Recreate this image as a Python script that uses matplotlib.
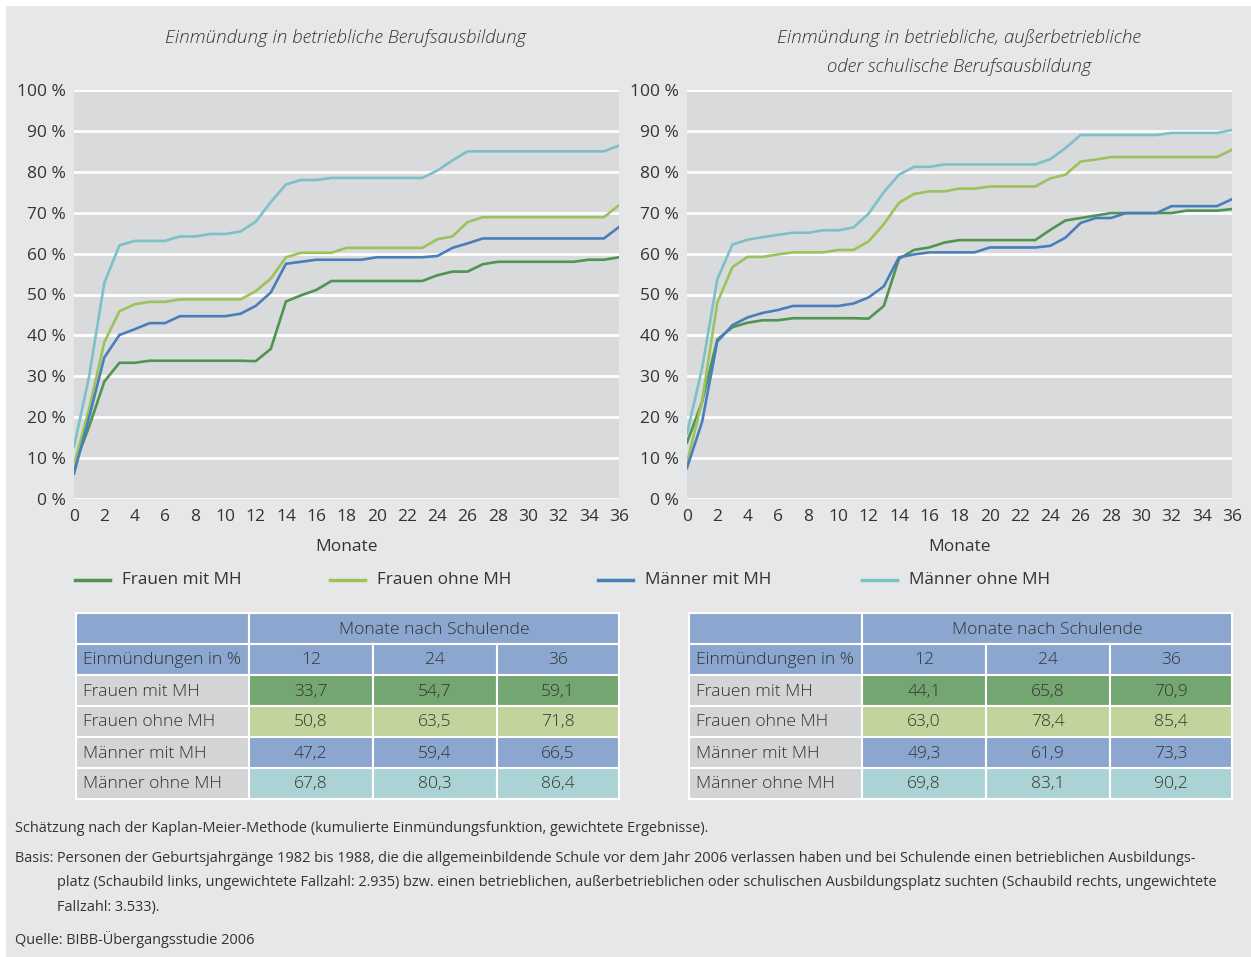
import matplotlib
matplotlib.use("Agg")
import matplotlib.pyplot as plt
from matplotlib.patches import Rectangle

months = list(range(37))

# left chart: betriebliche Berufsausbildung
left_frauen_mit = [8, 17.7, 28.7, 33.3, 33.3, 33.8, 33.8, 33.8, 33.8, 33.8, 33.8, 33.8, 33.7,
                   36.7, 48.3, 49.8, 51.1, 53.3, 53.3, 53.3, 53.3, 53.3, 53.3, 53.3, 54.7,
                   55.6, 55.6, 57.4, 58.0, 58.0, 58.0, 58.0, 58.0, 58.0, 58.5, 58.5, 59.1]
left_frauen_ohne = [8.4, 22, 38.3, 45.9, 47.6, 48.2, 48.2, 48.8, 48.8, 48.8, 48.8, 48.8, 50.8,
                    53.9, 59.1, 60.2, 60.2, 60.2, 61.4, 61.4, 61.4, 61.4, 61.4, 61.4, 63.5,
                    64.2, 67.7, 68.9, 68.9, 68.9, 68.9, 68.9, 68.9, 68.9, 68.9, 68.9, 71.8]
left_maenner_mit = [6.2, 20, 34.6, 40.1, 41.5, 43.0, 43.0, 44.7, 44.7, 44.7, 44.7, 45.3, 47.2,
                    50.5, 57.5, 58.0, 58.5, 58.5, 58.5, 58.5, 59.1, 59.1, 59.1, 59.1, 59.4,
                    61.4, 62.5, 63.7, 63.7, 63.7, 63.7, 63.7, 63.7, 63.7, 63.7, 63.7, 66.5]
left_maenner_ohne = [12.8, 30, 52.8, 62.0, 63.1, 63.1, 63.1, 64.2, 64.2, 64.8, 64.8, 65.4, 67.8,
                     72.6, 76.9, 78.0, 78.0, 78.5, 78.5, 78.5, 78.5, 78.5, 78.5, 78.5, 80.3,
                     82.8, 85.0, 85.0, 85.0, 85.0, 85.0, 85.0, 85.0, 85.0, 85.0, 85.0, 86.4]

# right chart: betriebliche, ausserbetriebliche oder schulische Berufsausbildung
right_frauen_mit = [13.8, 23.8, 39.0, 42.0, 43.1, 43.7, 43.7, 44.2, 44.2, 44.2, 44.2, 44.2, 44.1,
                    47.2, 58.7, 60.9, 61.5, 62.7, 63.3, 63.3, 63.3, 63.3, 63.3, 63.3, 65.8,
                    68.1, 68.7, 69.3, 69.9, 69.9, 69.9, 69.9, 69.9, 70.5, 70.5, 70.5, 70.9]
right_frauen_ohne = [8.8, 24, 48.0, 56.7, 59.2, 59.2, 59.8, 60.3, 60.3, 60.3, 60.9, 60.9, 63.0,
                     67.2, 72.4, 74.6, 75.2, 75.2, 75.9, 75.9, 76.4, 76.4, 76.4, 76.4, 78.4,
                     79.3, 82.5, 83.0, 83.6, 83.6, 83.6, 83.6, 83.6, 83.6, 83.6, 83.6, 85.4]
right_maenner_mit = [7.6, 18.9, 38.5, 42.5, 44.4, 45.5, 46.2, 47.2, 47.2, 47.2, 47.2, 47.8, 49.3,
                     52.0, 59.1, 59.8, 60.3, 60.3, 60.3, 60.3, 61.5, 61.5, 61.5, 61.5, 61.9,
                     63.9, 67.5, 68.7, 68.7, 69.9, 69.9, 69.9, 71.6, 71.6, 71.6, 71.6, 73.3]
right_maenner_ohne = [16, 32, 53.7, 62.2, 63.4, 64.0, 64.6, 65.1, 65.1, 65.7, 65.7, 66.4, 69.8,
                      75.0, 79.3, 81.2, 81.2, 81.8, 81.8, 81.8, 81.8, 81.8, 81.8, 81.8, 83.1,
                      85.8, 89.0, 89.0, 89.0, 89.0, 89.0, 89.0, 89.5, 89.5, 89.5, 89.5, 90.2]

groups = ["Frauen mit MH", "Frauen ohne MH", "Männer mit MH", "Männer ohne MH"]
line_colors = ["#4f9450", "#9cc35b", "#4a7ebb", "#7cc1c8"]
cell_colors = ["#74a672", "#c2d39b", "#8ba6cf", "#abd3d6"]

table_months = ["12", "24", "36"]
left_table = [["33,7", "54,7", "59,1"], ["50,8", "63,5", "71,8"],
              ["47,2", "59,4", "66,5"], ["67,8", "80,3", "86,4"]]
right_table = [["44,1", "65,8", "70,9"], ["63,0", "78,4", "85,4"],
               ["49,3", "61,9", "73,3"], ["69,8", "83,1", "90,2"]]

titles = ["Einmündung in betriebliche Berufsausbildung",
          "Einmündung in betriebliche, außerbetriebliche\noder schulische Berufsausbildung"]

footnotes = [
    "Schätzung nach der Kaplan-Meier-Methode (kumulierte Einmündungsfunktion, gewichtete Ergebnisse).",
    "Basis: Personen der Geburtsjahrgänge 1982 bis 1988, die die allgemeinbildende Schule vor dem Jahr 2006 verlassen haben und bei Schulende einen betrieblichen Ausbildungs-",
    "platz (Schaubild links, ungewichtete Fallzahl: 2.935) bzw. einen betrieblichen, außerbetrieblichen oder schulischen Ausbildungsplatz suchten (Schaubild rechts, ungewichtete",
    "Fallzahl: 3.533).",
    "Quelle: BIBB-Übergangsstudie 2006",
]

plt.rcParams['font.family'] = ['Open Sans', 'DejaVu Sans']
txt = "#333333"

W, H = 1251, 957
fig = plt.figure(figsize=(W / 100, H / 100), dpi=100)
fig.patch.set_facecolor("white")

# overlay in pixel coordinates for background, titles, legend, tables, notes
over = fig.add_axes([0, 0, 1, 1], zorder=0)
over.set_xlim(0, W)
over.set_ylim(H, 0)
over.axis("off")
over.add_patch(Rectangle((6, 6), W - 6, H - 6, facecolor="#e6e7e9", edgecolor="none"))

series = [
    [left_frauen_mit, left_frauen_ohne, left_maenner_mit, left_maenner_ohne],
    [right_frauen_mit, right_frauen_ohne, right_maenner_mit, right_maenner_ohne],
]
ax_left_px = [74, 687]
for k in range(2):
    x0 = ax_left_px[k]
    ax = fig.add_axes([x0 / W, 1 - 499 / H, 545 / W, 409 / H], zorder=2)
    ax.set_facecolor("#d9dadc")
    for i, s in enumerate(series[k]):
        ax.plot(months, s, color=line_colors[i], lw=1.9, solid_joinstyle="round")
    ax.set_xlim(0, 36)
    ax.set_ylim(0, 100)
    ax.set_xticks(range(0, 37, 2))
    ax.set_yticks(range(0, 101, 10))
    ax.set_yticklabels([f"{v} %" for v in range(0, 101, 10)])
    ax.grid(axis="y", color="white", lw=2)
    ax.set_axisbelow(True)
    for sp in ax.spines.values():
        sp.set_visible(False)
    ax.tick_params(length=0, labelsize=12.5, colors=txt)
    ax.tick_params(axis="x", pad=7)
    ax.tick_params(axis="y", pad=6)
    ax.set_xlabel("Monate", fontsize=12.5, color=txt, labelpad=10)
    over.text(x0 + 272, 29, titles[k], fontsize=13.5, style="italic", color=txt,
              fontweight="light", ha="center", va="top", linespacing=1.75)

# legend
leg_x = [75, 330, 598, 862]
for i, g in enumerate(groups):
    over.plot([leg_x[i], leg_x[i] + 35], [580, 580], color=line_colors[i], lw=2.5)
    over.text(leg_x[i] + 47, 580, g, fontsize=12.3, color=txt, va="center", ha="left")

# tables
def draw_table(x0, values):
    cols = [x0, x0 + 173, x0 + 297, x0 + 421, x0 + 543]
    rows = [613, 644, 675, 706, 737, 768, 799]
    def cell(c0, c1, r0, r1, color, label, ha="center"):
        over.add_patch(Rectangle((c0, r0), c1 - c0, r1 - r0, facecolor=color,
                                 edgecolor="white", lw=1.5))
        tx = (c0 + c1) / 2 if ha == "center" else c0 + 7
        over.text(tx, (r0 + r1) / 2 + 1, label, ha=ha, va="center", fontsize=12.6,
                  color=txt, fontweight="light")
    cell(cols[0], cols[1], rows[0], rows[1], "#8ba6cf", "")
    cell(cols[1], cols[4], rows[0], rows[1], "#8ba6cf", "Monate nach Schulende")
    cell(cols[0], cols[1], rows[1], rows[2], "#8ba6cf", "Einmündungen in %", ha="left")
    for j, m in enumerate(table_months):
        cell(cols[j + 1], cols[j + 2], rows[1], rows[2], "#8ba6cf", m)
    for i, g in enumerate(groups):
        cell(cols[0], cols[1], rows[i + 2], rows[i + 3], "#d3d4d6", g, ha="left")
        for j in range(3):
            cell(cols[j + 1], cols[j + 2], rows[i + 2], rows[i + 3], cell_colors[i], values[i][j])

draw_table(76, left_table)
draw_table(689, right_table)

# notes
note_y = [828, 858, 882, 907, 939]
note_x = [15, 15, 57, 57, 15]
for t, x, y in zip(footnotes, note_x, note_y):
    over.text(x, y, t, fontsize=10.45, color=txt, va="center", ha="left")

fig.savefig("out.png", dpi=100)
